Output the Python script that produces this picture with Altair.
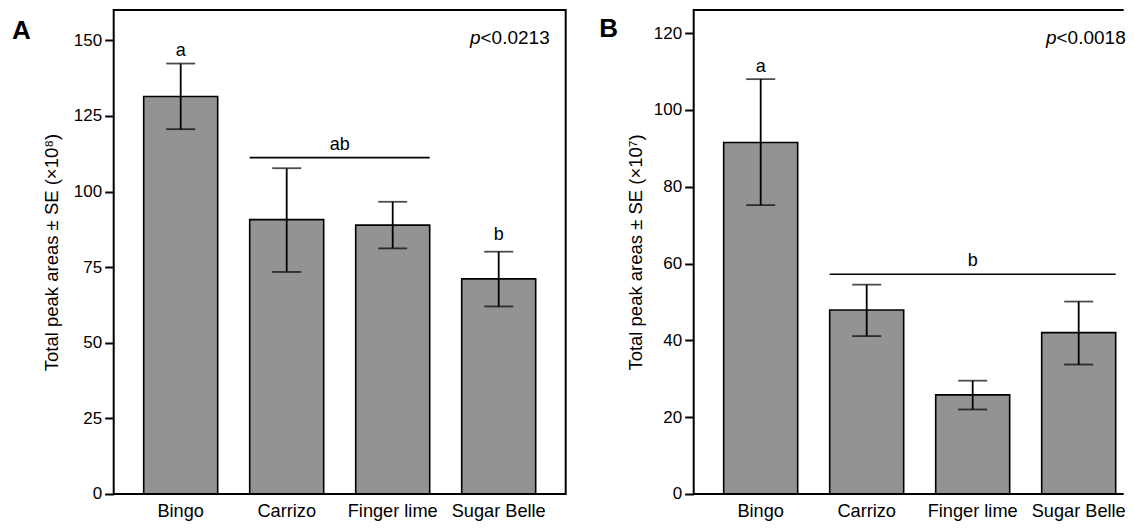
import altair as alt
import pandas as pd

# ---------------- data ----------------
categories = ["Bingo", "Carrizo", "Finger lime", "Sugar Belle"]

a_mean = [131.4, 90.7, 88.9, 71.1]
a_upper = [142.3, 107.7, 96.6, 80.1]
a_lower = [120.6, 73.4, 81.2, 62.0]

b_mean = [91.5, 47.9, 25.8, 42.0]
b_upper = [108.0, 54.5, 29.5, 50.1]
b_lower = [75.2, 41.1, 22.0, 33.7]

a_letters = ["a", "ab", "b"]
a_letter_cats = ["Bingo", "Finger lime", "Sugar Belle"]
a_letter_y = [146.6, 115.5, 85.6]
a_letter_gap = [False, True, False]   # True: centred in the gap before this bar
a_bracket = ["Carrizo", "Finger lime", 111.2]

b_letters = ["a", "b"]
b_letter_cats = ["Bingo", "Finger lime"]
b_letter_y = [111.2, 60.7]
b_letter_gap = [False, False]
b_bracket = ["Carrizo", "Sugar Belle", 57.2]

a_yticks = [0, 25, 50, 75, 100, 125, 150]
b_yticks = [0, 20, 40, 60, 80, 100, 120]

W = 452          # full panel frame width (panel A)
WB = 430         # visible width of panel B (its right part is cut off in the original)
H = 484
PAD_INNER = 0.302
PAD_OUTER = 0.283
N = len(categories)
STEP = W / (N - PAD_INNER + 2 * PAD_OUTER)
# panel B: same step / bar positions inside a narrower view
PAD_OUTER_B = (WB / STEP - (N - PAD_INNER)) / 2
ALIGN_B = (PAD_OUTER * STEP) / (WB - STEP * (N - PAD_INNER))
BAR_FILL = "#939393"
FONT = "Liberation Sans"
P_SIZE = 19


def make_panel(mean, upper, lower, ymax, yticks, ytitle, letters, letter_cats,
               letter_y, letter_gap, bracket, ptext, p_right, panel_letter, letter_dx,
               letter_base, title_pad, view_w, right_frame, pad_outer, band_align):
    df = pd.DataFrame({"cat": categories, "mean": mean, "upper": upper, "lower": lower})
    xscale = alt.Scale(domain=categories, paddingInner=PAD_INNER, paddingOuter=pad_outer,
                       align=band_align)
    yscale = alt.Scale(domain=[0, ymax], nice=False)
    x = alt.X("cat:N", scale=xscale, sort=categories,
              axis=alt.Axis(title=None, labelAngle=0, ticks=False, domain=False,
                            labelPadding=9, labelFontSize=18.2, labelColor="black",
                            labelFont=FONT))
    y_axis = alt.Axis(values=yticks, title=ytitle, grid=False, domain=False,
                      tickSize=9, tickWidth=2, tickColor="black", labelPadding=3,
                      labelFontSize=17, labelColor="black", labelFont=FONT,
                      titleFontSize=18.5, titleFontWeight="normal", titleColor="black",
                      titleFont=FONT, titlePadding=title_pad)

    base = alt.Chart(df)
    bars = base.mark_bar(color=BAR_FILL, stroke="black", strokeWidth=1.6).encode(
        x=x, y=alt.Y("mean:Q", scale=yscale, axis=y_axis))
    err = base.mark_rule(color="black", strokeWidth=1.8).encode(
        x=alt.X("cat:N", scale=xscale), y=alt.Y("lower:Q", scale=yscale), y2="upper:Q")
    cap_hi = base.mark_tick(color="black", thickness=1.8, size=29).encode(
        x=alt.X("cat:N", scale=xscale), y=alt.Y("upper:Q", scale=yscale))
    cap_lo = base.mark_tick(color="black", thickness=1.8, size=29).encode(
        x=alt.X("cat:N", scale=xscale), y=alt.Y("lower:Q", scale=yscale))

    layers = [bars, err, cap_hi, cap_lo]

    # frame lines (left, bottom, top, optional right)
    frame = alt.Chart(pd.DataFrame({"k": [0]}))
    layers.append(frame.mark_rule(color="black", strokeWidth=2).encode(
        x=alt.value(0), y=alt.value(-1), y2=alt.value(H + 1)))
    layers.append(frame.mark_rule(color="black", strokeWidth=2).encode(
        x=alt.value(0), x2=alt.value(view_w), y=alt.value(H)))
    layers.append(frame.mark_rule(color="black", strokeWidth=2).encode(
        x=alt.value(0), x2=alt.value(view_w), y=alt.value(0)))
    if right_frame:
        layers.append(frame.mark_rule(color="black", strokeWidth=2).encode(
            x=alt.value(view_w), y=alt.value(-1), y2=alt.value(H + 1)))

    # bracket line
    bdf = pd.DataFrame({"start": [bracket[0]], "end": [bracket[1]], "y": [bracket[2]]})
    layers.append(alt.Chart(bdf).mark_rule(color="black", strokeWidth=1.6).encode(
        x=alt.X("start:N", scale=xscale, bandPosition=0),
        x2=alt.X2("end:N", bandPosition=1),
        y=alt.Y("y:Q", scale=yscale)))

    gap_dx = -PAD_INNER * STEP / 2
    for lab, c, yv, gap in zip(letters, letter_cats, letter_y, letter_gap):
        ldf = pd.DataFrame({"cat": [c], "y": [yv], "lab": [lab]})
        layers.append(alt.Chart(ldf).mark_text(
            fontSize=18, font=FONT, color="black", baseline="middle", align="center",
            dx=gap_dx if gap else 0).encode(
            x=alt.X("cat:N", scale=xscale, bandPosition=0 if gap else 0.5),
            y=alt.Y("y:Q", scale=yscale), text="lab:N"))

    # p-value annotation
    num_w = (0.584 + 0.556 * 5 + 0.278) * P_SIZE
    layers.append(alt.Chart(pd.DataFrame({"t": [ptext]})).mark_text(
        fontSize=P_SIZE, font=FONT, color="black", align="right", baseline="middle").encode(
        x=alt.value(p_right), y=alt.value(28.3), text="t:N"))
    layers.append(alt.Chart(pd.DataFrame({"t": ["p"]})).mark_text(
        fontSize=P_SIZE, font=FONT, fontStyle="italic", color="black", align="right",
        baseline="middle").encode(
        x=alt.value(p_right - num_w), y=alt.value(28.3), text="t:N"))

    # panel letter
    layers.append(alt.Chart(pd.DataFrame({"t": [panel_letter]})).mark_text(
        fontSize=26, font=FONT, fontWeight="bold", color="black", align="left",
        baseline="alphabetic").encode(
        x=alt.value(letter_dx), y=alt.value(letter_base), text="t:N"))

    return alt.layer(*layers).properties(width=view_w, height=H)


panel_a = make_panel(a_mean, a_upper, a_lower, 160, a_yticks,
                     "Total peak areas \u00b1 SE (\u00d710\u2078)",
                     a_letters, a_letter_cats, a_letter_y, a_letter_gap, a_bracket,
                     "<0.0213", 436, "A", -101.6, 28.7, 12, W, True, PAD_OUTER, 0.5)
panel_b = make_panel(b_mean, b_upper, b_lower, 126, b_yticks,
                     "Total peak areas \u00b1 SE (\u00d710\u2077)",
                     b_letters, b_letter_cats, b_letter_y, b_letter_gap, b_bracket,
                     "<0.0018", 432, "B", -94.4, 27.0, 8, WB, False, PAD_OUTER_B, ALIGN_B)

chart = alt.ConcatChart(concat=[panel_a, panel_b], columns=2, align="each",
                        spacing=32).properties(
    padding={"left": 3.7, "top": 0, "right": 0, "bottom": 0}
).configure_view(stroke=None)

chart.save("out.html", embed_options={"renderer": "svg", "actions": False})
